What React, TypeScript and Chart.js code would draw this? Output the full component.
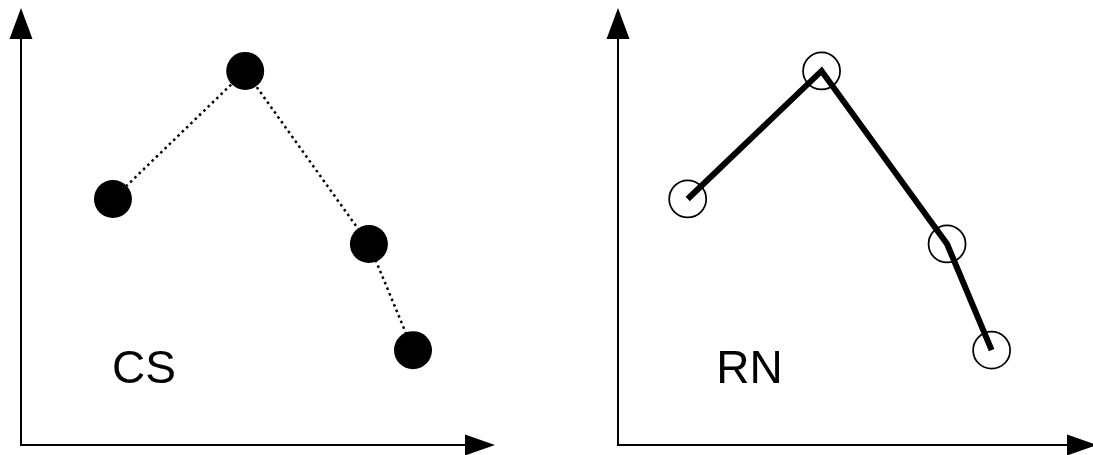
import React, { useEffect, useRef } from "react";
import { Chart, registerables } from "chart.js";

Chart.register(...registerables);

// ---- data (data units, 0..100 on both axes) ----
const csX = [19.4, 47.3, 73.4, 82.7];
const csY = [56.3, 85.6, 46.0, 21.7];
const rnX = [14.55, 42.5, 68.7, 78.0];
const rnY = [56.3, 85.6, 46.0, 21.7];
const panelLabels = ["CS", "RN"];
const labelX = [19.2, 20.5];
const labelY = [14.2, 14.2];

const arrowAxesPlugin = {
  id: "arrowAxes",
  afterDraw(chart: any, _args: any, opts: any) {
    const { ctx, chartArea } = chart;
    const { left, right, top, bottom } = chartArea;
    ctx.save();
    ctx.strokeStyle = "#000";
    ctx.fillStyle = "#000";
    ctx.lineWidth = 2;
    // y axis
    ctx.beginPath();
    ctx.moveTo(left, bottom + 1);
    ctx.lineTo(left, top + 30);
    ctx.stroke();
    ctx.beginPath();
    ctx.moveTo(left, top);
    ctx.lineTo(left - 11.5, top + 31);
    ctx.lineTo(left + 11.5, top + 31);
    ctx.closePath();
    ctx.fill();
    // x axis
    ctx.beginPath();
    ctx.moveTo(left - 1, bottom);
    ctx.lineTo(right - 29, bottom);
    ctx.stroke();
    ctx.beginPath();
    ctx.moveTo(right, bottom);
    ctx.lineTo(right - 30, bottom - 10.5);
    ctx.lineTo(right - 30, bottom + 10.5);
    ctx.closePath();
    ctx.fill();
    // panel label
    if (opts && opts.text) {
      const px = chart.scales.x.getPixelForValue(opts.x);
      const py = chart.scales.y.getPixelForValue(opts.y);
      ctx.font = "46px 'Liberation Sans', Arial, sans-serif";
      ctx.textAlign = "left";
      ctx.textBaseline = "alphabetic";
      ctx.fillText(opts.text, px, py);
    }
    ctx.restore();
  },
};

function makeConfig(
  xs: number[],
  ys: number[],
  filled: boolean,
  padding: any,
  label: { text: string; x: number; y: number }
): any {
  return {
    type: "scatter",
    data: {
      datasets: [
        {
          data: xs.map((x, i) => ({ x, y: ys[i] })),
          showLine: true,
          borderColor: "#000",
          borderWidth: filled ? 2.5 : 6,
          borderDash: filled ? [2.5, 3.5] : [],
          borderJoinStyle: "miter",
          pointRadius: filled ? 19 : 18.5,
          pointHoverRadius: filled ? 19 : 18.5,
          pointBackgroundColor: filled ? "#000" : "rgba(0,0,0,0)",
          pointBorderColor: "#000",
          pointBorderWidth: filled ? 0 : 1.75,
          tension: 0,
          clip: false,
        },
      ],
    },
    options: {
      animation: false,
      responsive: false,
      devicePixelRatio: 1,
      layout: { padding, autoPadding: false },
      events: [],
      plugins: {
        legend: { display: false },
        tooltip: { enabled: false },
        arrowAxes: label,
      },
      scales: {
        x: { type: "linear", min: 0, max: 100, display: false },
        y: { type: "linear", min: 0, max: 100, display: false },
      },
    },
    plugins: [arrowAxesPlugin],
  };
}

export default function App() {
  const leftRef = useRef<HTMLCanvasElement | null>(null);
  const rightRef = useRef<HTMLCanvasElement | null>(null);

  useEffect(() => {
    const c1 = new Chart(
      leftRef.current as HTMLCanvasElement,
      makeConfig(csX, csY, true, { left: 21, right: 51, top: 8, bottom: 10 }, {
        text: panelLabels[0],
        x: labelX[0],
        y: labelY[0],
      })
    );
    const c2 = new Chart(
      rightRef.current as HTMLCanvasElement,
      makeConfig(rnX, rnY, false, { left: 72, right: 1, top: 8, bottom: 10 }, {
        text: panelLabels[1],
        x: labelX[1],
        y: labelY[1],
      })
    );
    return () => {
      c1.destroy();
      c2.destroy();
    };
  }, []);

  return (
    <div
      style={{
        position: "fixed",
        left: 0,
        top: 0,
        width: 1093,
        height: 455,
        overflow: "hidden",
        background: "#fff",
      }}
    >
      <canvas
        ref={leftRef}
        width={546}
        height={455}
        style={{ position: "absolute", left: 0, top: 0, width: 546, height: 455 }}
      />
      <canvas
        ref={rightRef}
        width={552}
        height={455}
        style={{ position: "absolute", left: 546, top: 0, width: 552, height: 455 }}
      />
    </div>
  );
}
